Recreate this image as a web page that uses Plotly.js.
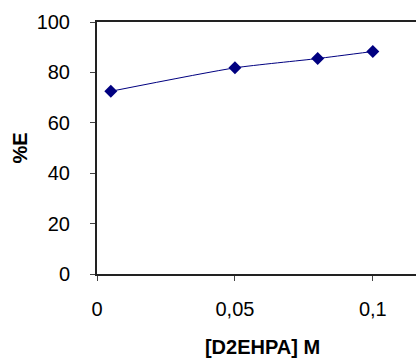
<!DOCTYPE html>
<html>
<head>
<meta charset="utf-8">
<script src="https://cdn.plot.ly/plotly-3.0.1.min.js"></script>
<style>
html,body{margin:0;padding:0;overflow:hidden;background:#fff;}
#chart{width:432px;height:358px;}
</style>
</head>
<body>
<div id="chart"></div>
<script>
const concentration = [0.005, 0.05, 0.08, 0.1];
const extraction = [72.5, 81.8, 85.5, 88.3];
const xTickVals = [0, 0.05, 0.1];
const xTickText = ['0', '0,05', '0,1'];
const yTickVals = [0, 20, 40, 60, 80, 100];

const trace = {
  x: concentration,
  y: extraction,
  type: 'scatter',
  mode: 'lines+markers',
  line: {color: '#000080', width: 1, shape: 'spline', smoothing: 0.6},
  marker: {symbol: 'diamond', size: 10, color: '#000080'},
  hoverinfo: 'none'
};

const layout = {
  width: 432,
  height: 358,
  margin: {l: 97, r: 4, t: 22, b: 84},
  paper_bgcolor: '#fff',
  plot_bgcolor: '#fff',
  showlegend: false,
  font: {family: 'Liberation Sans, Arial, sans-serif', size: 20, color: '#000'},
  xaxis: {
    range: [0, 0.12],
    tickvals: xTickVals,
    ticktext: xTickText,
    ticks: 'outside',
    ticklen: 5,
    tickwidth: 1,
    tickcolor: '#444',
    showgrid: false,
    zeroline: false,
    showline: true,
    linecolor: '#222',
    linewidth: 2,
    mirror: true,
    tickfont: {size: 20},
    ticklabelstandoff: 11,
    title: {text: '<b>[D2EHPA] M</b>', font: {size: 20}, standoff: 21}
  },
  yaxis: {
    range: [0, 100],
    tickvals: yTickVals,
    ticks: 'outside',
    ticklen: 5,
    tickwidth: 1,
    tickcolor: '#444',
    showgrid: false,
    zeroline: false,
    showline: true,
    linecolor: '#222',
    linewidth: 2,
    mirror: true,
    tickfont: {size: 20},
    ticklabelstandoff: 16,
    title: {text: '<b>%E</b>', font: {size: 20}, standoff: 4}
  }
};

Plotly.newPlot('chart', [trace], layout, {staticPlot: true, displayModeBar: false});
</script>
</body>
</html>
